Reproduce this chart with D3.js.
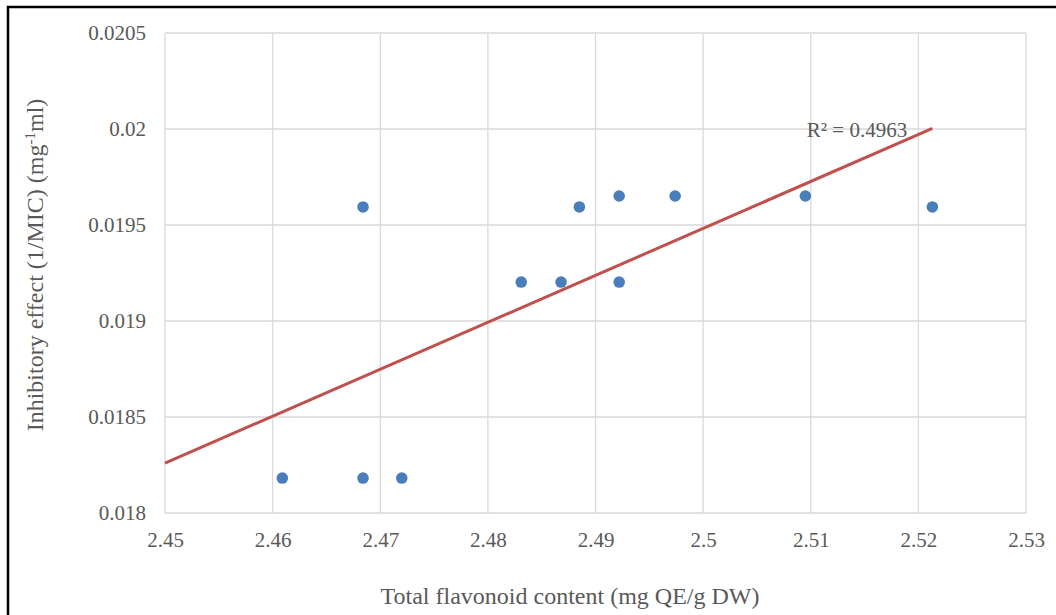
<!DOCTYPE html>
<html>
<head>
<meta charset="utf-8">
<script src="https://cdn.jsdelivr.net/npm/d3@7"></script>
<style>
  body { margin: 0; background: #fff; }
  svg { display: block; font-family: "Liberation Serif", "Times New Roman", serif; }
</style>
</head>
<body>
<div id="chart"></div>
<script>
// values
const flavonoid = [2.4609, 2.4684, 2.4720, 2.4684, 2.4831, 2.4868, 2.4885, 2.4922, 2.4922, 2.4974, 2.5095, 2.5213];
const inhibition = [0.018182, 0.018182, 0.018182, 0.019594, 0.019203, 0.019203, 0.019594, 0.019651, 0.019203, 0.019651, 0.019651, 0.019594];
const xTicks = [2.45, 2.46, 2.47, 2.48, 2.49, 2.5, 2.51, 2.52, 2.53];
const yTicks = [0.018, 0.0185, 0.019, 0.0195, 0.02, 0.0205];
const r2Label = "R² = 0.4963";
const xTitle = "Total flavonoid content (mg QE/g DW)";

const width = 1056, height = 615;
const margin = {left: 165, right: 30, top: 33, bottom: 102};
const textColor = "#595959";
const gridColor = "#d9d9d9";

const svg = d3.select("#chart").append("svg")
    .attr("width", width)
    .attr("height", height);

// outer frame (only top and left edges show in the picture)
svg.append("rect")
    .attr("x", 8).attr("y", 7)
    .attr("width", width + 20).attr("height", height + 20)
    .style("fill", "none")
    .style("stroke", "#000")
    .style("stroke-width", 2.5);

const x = d3.scaleLinear().domain([2.45, 2.53]).range([margin.left, width - margin.right]);
const y = d3.scaleLinear().domain([0.018, 0.0205]).range([height - margin.bottom, margin.top]);

// gridlines
svg.append("g").selectAll("line.vgrid")
    .data(xTicks).enter().append("line")
    .attr("x1", d => x(d)).attr("x2", d => x(d))
    .attr("y1", y(0.018)).attr("y2", y(0.0205))
    .style("stroke", gridColor).style("stroke-width", 1.3);

svg.append("g").selectAll("line.hgrid")
    .data(yTicks).enter().append("line")
    .attr("x1", x(2.45)).attr("x2", x(2.53))
    .attr("y1", d => y(d)).attr("y2", d => y(d))
    .style("stroke", gridColor).style("stroke-width", 1.3);

// axes
const xAxis = svg.append("g")
    .attr("transform", `translate(0,${y(0.018)})`)
    .call(d3.axisBottom(x).tickValues(xTicks).tickSize(0).tickPadding(19).tickFormat(d3.format("")));
const yAxis = svg.append("g")
    .attr("transform", `translate(${x(2.45)},0)`)
    .call(d3.axisLeft(y).tickValues(yTicks).tickSize(0).tickPadding(19).tickFormat(d3.format("")));

[xAxis, yAxis].forEach(g => {
    g.select(".domain").remove();
    g.selectAll("text")
        .style("font-family", "Liberation Serif, serif")
        .style("font-size", "21px")
        .style("fill", textColor);
});

// linear trendline (least squares), drawn from the axis start to the last point
const n = flavonoid.length;
const mx = d3.mean(flavonoid), my = d3.mean(inhibition);
let sxy = 0, sxx = 0;
for (let i = 0; i < n; i++) {
    sxy += (flavonoid[i] - mx) * (inhibition[i] - my);
    sxx += (flavonoid[i] - mx) ** 2;
}
const slope = sxy / sxx;
const intercept = my - slope * mx;
const trendX = [2.45, d3.max(flavonoid)];

svg.append("path")
    .datum(trendX)
    .attr("d", d3.line().x(d => x(d)).y(d => y(intercept + slope * d)))
    .style("fill", "none")
    .style("stroke", "#c0504d")
    .style("stroke-width", 3);

// points
svg.append("g").selectAll("circle")
    .data(flavonoid.map((d, i) => [d, inhibition[i]]))
    .enter().append("circle")
    .attr("cx", d => x(d[0]))
    .attr("cy", d => y(d[1]))
    .attr("r", 5.8)
    .style("fill", "#4a7ebb");

// R² label
svg.append("text")
    .attr("x", x(2.5143))
    .attr("y", y(0.01996))
    .attr("text-anchor", "middle")
    .style("font-size", "21px")
    .style("fill", textColor)
    .text(r2Label);

// axis titles
svg.append("text")
    .attr("x", 570)
    .attr("y", 604)
    .attr("text-anchor", "middle")
    .style("font-size", "24px")
    .style("fill", textColor)
    .text(xTitle);

const yTitle = svg.append("text")
    .attr("transform", "translate(43,265) rotate(-90)")
    .attr("text-anchor", "middle")
    .style("font-size", "24px")
    .style("fill", textColor);
yTitle.append("tspan").text("Inhibitory effect (1/MIC) (mg");
yTitle.append("tspan").attr("dy", -8).style("font-size", "15px").text("-1");
yTitle.append("tspan").attr("dy", 8).text("ml)");
</script>
</body>
</html>
